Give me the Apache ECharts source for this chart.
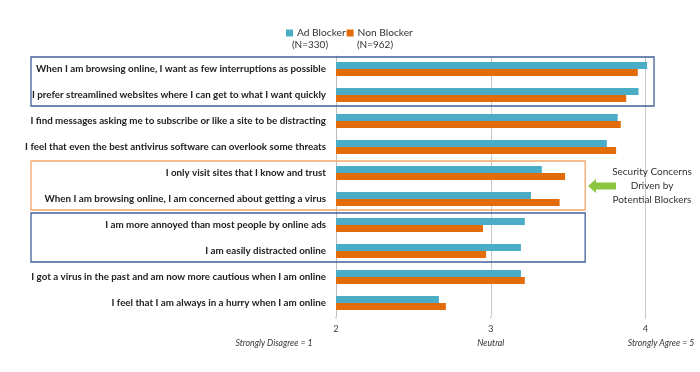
<!DOCTYPE html>
<html><head><meta charset="utf-8">
<script src="https://cdn.jsdelivr.net/npm/echarts@6/dist/echarts.min.js"></script>
<style>html,body{margin:0;padding:0;background:#fff}#c{width:700px;height:372px}</style>
</head><body><div id="c"></div>
<script>
const categories = [
  "When I am browsing online, I want as few interruptions as possible",
  "I prefer streamlined websites where I can get to what I want quickly",
  "I find messages asking me to subscribe or like a site to be distracting",
  "I feel that even the best antivirus software can overlook some threats",
  "I only visit sites that I know and trust",
  "When I am browsing online, I am concerned about getting a virus",
  "I am more annoyed than most people by online ads",
  "I am easily distracted online",
  "I got a virus in the past and am now more cautious when I am online",
  "I feel that I am always in a hurry when I am online"
];
const seriesNames = ["Ad Blocker", "Non Blocker"];
const sampleSizes = ["(N=330)", "(N=962)"];
const adBlocker  = [4.01, 3.955, 3.82, 3.75, 3.33, 3.26, 3.22, 3.195, 3.195, 2.665];
const nonBlocker = [3.95, 3.875, 3.84, 3.81, 3.48, 3.445, 2.95, 2.97, 3.22, 2.71];
const tickLabels = {2: "2", 3: "3", 4: "4"};
const scaleNotes = ["Strongly Disagree = 1", "Neutral", "Strongly Agree = 5"];
const calloutLines = ["Security Concerns", "Driven by", "Potential Blockers"];
// highlighted groups: [firstRow, lastRow, rightValue, colour]
const boxes = [[0, 1, 4.055, "#41609a"], [4, 5, 3.61, "#f4a66a"], [6, 7, 3.61, "#41609a"]];

const chart = echarts.init(document.getElementById('c'));
const font = "Lato, 'Open Sans', sans-serif";
chart.setOption({
  animation: false,
  legend: {
    data: seriesNames, left: 281, top: 23, itemWidth: 7, itemHeight: 7, itemGap: 1,
    icon: 'rect', textStyle: {fontSize: 10.2, color: '#333', fontFamily: font, padding: [0,0,0,-1]}
  },
  grid: {left: 336, right: 39, top: 56, bottom: 56, containLabel: false},
  xAxis: {
    type: 'value', min: 2, max: 4.1, interval: 1,
    axisLine: {show: false}, axisTick: {show: false},
    splitLine: {show: true, showMinLine: false, showMaxLine: false, lineStyle: {color: '#c8c8c8', width: 1}},
    axisLabel: {formatter: v => tickLabels[v] || '', color: '#444', fontSize: 9.5, fontFamily: font, margin: 8, showMaxLabel: false}
  },
  yAxis: {
    type: 'category', data: categories, inverse: true,
    axisLine: {show: true, lineStyle: {color: '#bdbdbd'}}, axisTick: {show: false},
    axisLabel: {color: '#222', fontSize: 9.8, fontWeight: 'bold', fontFamily: font, margin: 10}
  },
  series: [
    {name: seriesNames[0], type: 'bar', data: adBlocker, barWidth: 7, barGap: '0%', itemStyle: {color: '#4aacc5'}},
    {name: seriesNames[1], type: 'bar', data: nonBlocker, barWidth: 7, itemStyle: {color: '#e36c0a'}}
  ]
});

const gfx = [];
const bandHalf = 13;
boxes.forEach(b => {
  const yTop = chart.convertToPixel({yAxisIndex: 0}, categories[b[0]]) - bandHalf + 1;
  const yBot = chart.convertToPixel({yAxisIndex: 0}, categories[b[1]]) + bandHalf - 2;
  const xR = chart.convertToPixel({xAxisIndex: 0}, b[2]);
  gfx.push({type: 'rect', shape: {x: 31, y: yTop, width: xR - 31, height: yBot - yTop},
    style: {fill: 'none', stroke: b[3], lineWidth: 1.3}, z: 10});
});
gfx.push({type: 'text', style: {text: sampleSizes[0], x: 310, y: 40, textAlign: 'center', fontSize: 10, fontFamily: font, fill: '#333'}});
gfx.push({type: 'text', style: {text: sampleSizes[1], x: 375, y: 40, textAlign: 'center', fontSize: 10, fontFamily: font, fill: '#333'}});
const x2 = chart.convertToPixel({xAxisIndex: 0}, 2), x3 = chart.convertToPixel({xAxisIndex: 0}, 3), x4 = chart.convertToPixel({xAxisIndex: 0}, 4);
gfx.push({type: 'text', style: {text: scaleNotes[0], x: 274, y: 339, textAlign: 'center', fontSize: 8.7, fontStyle: 'italic', fontFamily: font, fill: '#333'}});
gfx.push({type: 'text', style: {text: scaleNotes[1], x: x3, y: 339, textAlign: 'center', fontSize: 8.7, fontStyle: 'italic', fontFamily: font, fill: '#333'}});
gfx.push({type: 'text', style: {text: scaleNotes[2], x: 661, y: 339, textAlign: 'center', fontSize: 8.7, fontStyle: 'italic', fontFamily: font, fill: '#333'}});
[x2, x3, x4].forEach(x => gfx.push({type: 'line', shape: {x1: x, y1: 316, x2: x, y2: 319}, style: {stroke: '#c8c8c8', lineWidth: 1}}));
const ay = (chart.convertToPixel({yAxisIndex: 0}, categories[4]) + chart.convertToPixel({yAxisIndex: 0}, categories[5])) / 2;
gfx.push({type: 'polygon', shape: {points: [[588, ay], [596, ay - 7], [596, ay - 3.5], [616, ay - 3.5], [616, ay + 3.5], [596, ay + 3.5], [596, ay + 7]]},
  style: {fill: '#8cc63f'}, z: 10});
calloutLines.forEach((t, i) => gfx.push({type: 'text', style: {text: t, x: 652, y: ay - 19 + i * 14, textAlign: 'center', fontSize: 10, fontFamily: font, fill: '#333'}, z: 10}));
chart.setOption({graphic: gfx});
</script></body></html>
